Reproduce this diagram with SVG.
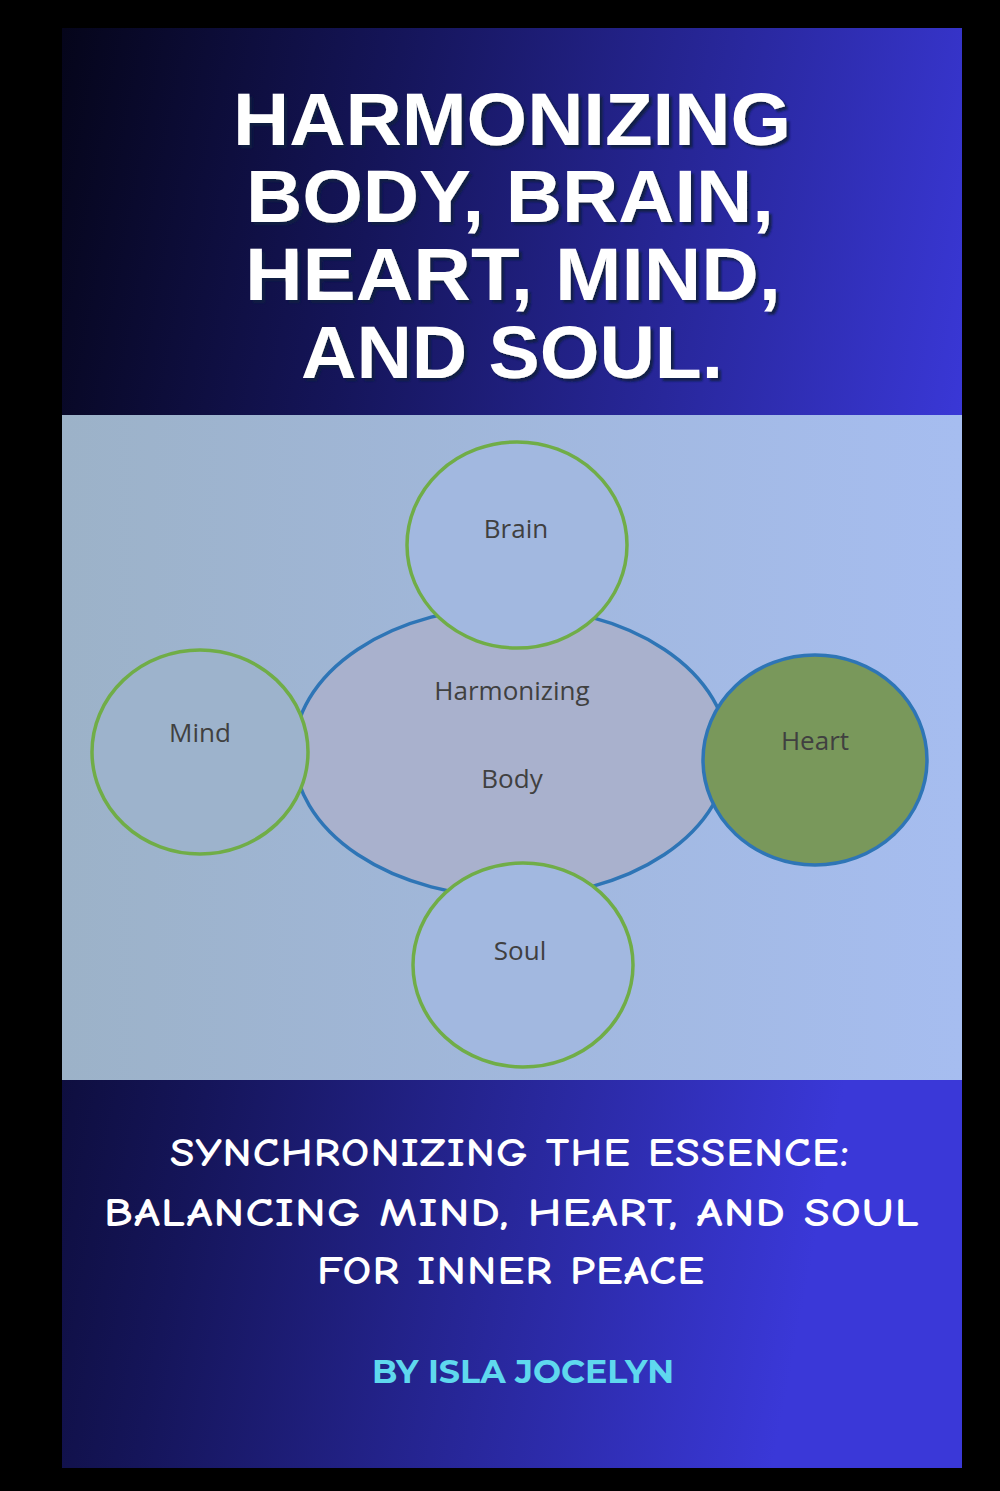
<svg xmlns="http://www.w3.org/2000/svg" width="1000" height="1491" viewBox="0 0 1000 1491">
<defs>
<linearGradient id="bg" x1="0" y1="0" x2="1" y2="0.3"><stop offset="0" stop-color="#05051a"/><stop offset="0.35" stop-color="#15155a"/><stop offset="1" stop-color="#3a38d8"/></linearGradient>
<linearGradient id="pn" x1="0" y1="0" x2="1" y2="0"><stop offset="0" stop-color="#9cb2c8"/><stop offset="1" stop-color="#a6bdf0"/></linearGradient>
<filter id="sh"><feDropShadow dx="3" dy="3" stdDeviation="1" flood-color="#0a1a40" flood-opacity="0.9"/></filter>
</defs>
<style>
.t{font-family:"Liberation Sans",Arial,sans-serif;font-weight:bold;font-size:74px;fill:#fff;text-anchor:middle}
.c{fill:none;stroke:#70ad47;stroke-width:3.5}
.l{font-family:"Open Sans","DejaVu Sans",sans-serif;font-size:26px;fill:#404040;text-anchor:middle}
.s{font-family:"Comic Neue","DejaVu Sans",sans-serif;font-weight:bold;font-size:40px;fill:#fff;text-anchor:middle;letter-spacing:1px}
</style>
<rect width="1000" height="1491" fill="#000"/>
<rect x="62" y="28" width="900" height="1440" fill="url(#bg)"/>
<g filter="url(#sh)">
<text class="t" x="512" y="145" textLength="558" lengthAdjust="spacingAndGlyphs">HARMONIZING</text>
<text class="t" x="510" y="222" textLength="528" lengthAdjust="spacingAndGlyphs">BODY, BRAIN,</text>
<text class="t" x="513" y="300" textLength="536" lengthAdjust="spacingAndGlyphs">HEART, MIND,</text>
<text class="t" x="512" y="378" textLength="422" lengthAdjust="spacingAndGlyphs">AND SOUL.</text>
</g>
<rect x="62" y="415" width="900" height="665" fill="url(#pn)"/>
<g id="body"><ellipse cx="511" cy="752" rx="217" ry="145" fill="#a9b1cd" stroke="#2e75b6" stroke-width="3.5"/>
<text class="l" x="512" y="700">Harmonizing</text><text class="l" x="512" y="788">Body</text></g>
<g id="brain"><ellipse cx="517" cy="545" rx="110" ry="103" class="c" style="fill:#a2b8e0"/><text class="l" x="516" y="538">Brain</text></g>
<g id="mind"><ellipse cx="200" cy="752" rx="108" ry="102" class="c" style="fill:#9db3cc"/><text class="l" x="200" y="742">Mind</text></g>
<g id="heart"><ellipse cx="815" cy="760" rx="112" ry="105" fill="#79985b" stroke="#2e75b6" stroke-width="3.5"/><text class="l" x="815" y="750">Heart</text></g>
<g id="soul"><ellipse cx="523" cy="965" rx="110" ry="102" class="c" style="fill:#a2b8e0"/><text class="l" x="520" y="960">Soul</text></g>
<text class="s" x="510" y="1166" textLength="680" lengthAdjust="spacingAndGlyphs">SYNCHRONIZING THE ESSENCE:</text>
<text class="s" x="512" y="1226" textLength="816" lengthAdjust="spacingAndGlyphs">BALANCING MIND, HEART, AND SOUL</text>
<text class="s" x="511" y="1284" textLength="388" lengthAdjust="spacingAndGlyphs">FOR INNER PEACE</text>
<text x="523" y="1383" font-family="Montserrat,'Liberation Sans',sans-serif" font-weight="bold" font-size="32" fill="#5fd8ee" text-anchor="middle" textLength="302" lengthAdjust="spacingAndGlyphs">BY ISLA JOCELYN</text>
</svg>
